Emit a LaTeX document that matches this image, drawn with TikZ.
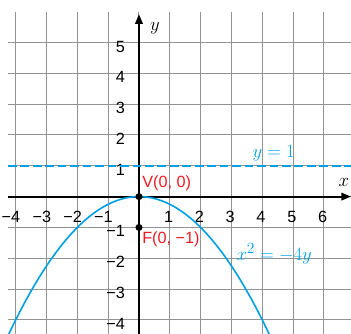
\documentclass[tikz,border=0pt]{standalone}
\usepackage{fontspec}
\setmainfont{Liberation Sans}
\usepackage{tikz}
\usetikzlibrary{arrows.meta,positioning}
\definecolor{curvecyan}{RGB}{0,160,227}
\definecolor{pointred}{RGB}{237,28,36}

\begin{document}
\begin{tikzpicture}[scale=1.0,
    gridline/.style={gray!85,line width=0.9pt},
    axisline/.style={black,line width=1.7pt,-{Triangle[length=9pt,width=7pt]}},
    ticklab/.style={font=\fontsize{15}{18}\selectfont,inner sep=0pt},
    ptlab/.style={pointred,font=\fontsize{15}{18}\selectfont,inner sep=0pt,anchor=base west},
    mathlab/.style={curvecyan,font=\fontsize{19}{22}\selectfont,inner sep=0pt,anchor=base west},
    dot/.style={circle,fill=black,inner sep=0pt,minimum size=6.5pt}]
  \clip (-4.51,-4.43) rectangle (6.88,6.38);
  % grid
  \foreach \j in {-4,...,5}
    \draw[gridline] (-4.25,\j) -- (6.9,\j);
  \foreach \i in {-4,...,6}
    \draw[gridline] (\i,-4.5) -- (\i,5.98);
  % tick labels
  \foreach \i in {1,...,6}
    \node[ticklab] (xt\i) at (\i-0.04,-0.66) {\i};
  \foreach \i in {1,...,4}
    \node[ticklab] (xtm\i) at (-\i,-0.66) {\llap{−}\i};
  \foreach \j in {1,...,5}
    \node[ticklab,anchor=east] (yt\j) at (-0.45,\j-0.13) {\j};
  \foreach \j in {1,...,4}
    \node[ticklab,anchor=east] (ytm\j) at (-0.45,-\j-0.12) {−\j};
  % axes
  \coordinate (xstart) at (-4.25,0);
  \coordinate (xend) at (6.88,0);
  \coordinate (ystart) at (0,-4.5);
  \coordinate (yend) at (0,5.92);
  \draw[axisline] (xstart) -- (xend);
  \draw[axisline] (ystart) -- (yend);
  \node[font=\fontsize{18}{21}\selectfont] (xlab) at (6.65,0.47) {$x$};
  \node[font=\fontsize{18}{21}\selectfont] (ylab) at (0.52,5.45) {$y$};
  % directrix y = 1
  \draw[curvecyan,line width=1.7pt,dash pattern=on 8pt off 3.5pt] (-4.25,1) -- (6.9,1);
  \node[mathlab] (dirlab) at (3.68,1.28) {$y=1$};
  % the parabola
  \draw[curvecyan,line width=1.5pt] plot[domain=-4.3:4.3,samples=80,smooth] (\x,{-\x*\x/4});
  \node[mathlab] (curvelab) at (3.16,-2.06) {$x^2=-4y$};
  % vertex and focus
  \node[dot] (V) at (0,0) {};
  \node[dot] (F) at (0,-1) {};
  \node[ptlab] (Vlab) at (0.1,0.28) {V(0, 0)};
  \node[ptlab] (Flab) at (0.1,-1.51) {F(0, −1)};
\end{tikzpicture}
\end{document}
